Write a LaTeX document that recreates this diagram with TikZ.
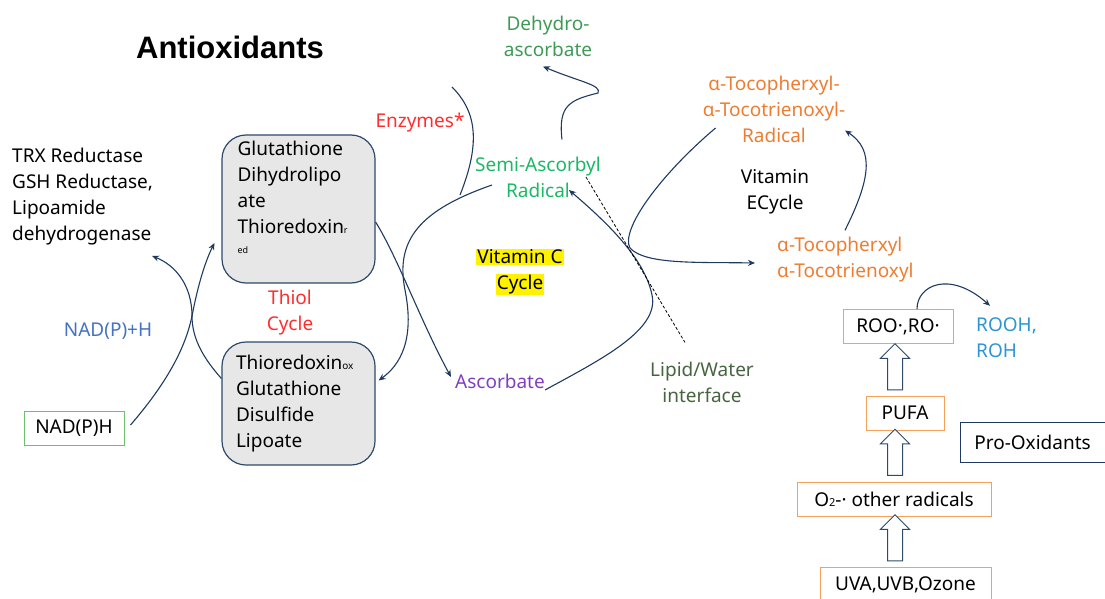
\documentclass[tikz,border=0pt]{standalone}
\usepackage{fontspec}
\setmainfont{Noto Sans}
\newfontfamily\titlefont{Liberation Sans}
\usetikzlibrary{positioning, shapes.arrows, arrows.meta}
\definecolor{linknavy}{HTML}{1F3A5F}
\definecolor{boxline}{HTML}{2E4A6B}
\definecolor{boxgray}{HTML}{E7E7E7}
\definecolor{cyclered}{HTML}{FF2D2D}
\definecolor{nadblue}{HTML}{4472C4}
\definecolor{nadgreen}{HTML}{6CC06C}
\definecolor{dehydrogreen}{HTML}{3F9A55}
\definecolor{semigreen}{HTML}{1CB866}
\definecolor{ascpurple}{HTML}{7F3FBF}
\definecolor{lipidgreen}{HTML}{46643F}
\definecolor{tocoorange}{HTML}{ED7D31}
\definecolor{proorange}{HTML}{F7A05A}
\definecolor{roohblue}{HTML}{2E95D3}
\definecolor{pronavy}{HTML}{203864}
\setlength{\fboxsep}{1pt}

\begin{document}
\begin{tikzpicture}[
    x=1pt, y=-1pt,
    font=\fontsize{19}{26}\selectfont,
    cellbox/.style={draw=boxline, line width=1.2pt, fill=boxgray, rounded corners=24pt,
                    minimum width=153pt},
    oxbox/.style={draw=#1, line width=1pt, inner sep=0pt, minimum height=34pt},
    oxbox/.default=proorange,
    blockarrow/.style={draw=boxline, line width=1pt, fill=white, single arrow,
                       shape border rotate=90, inner xsep=7pt, inner ysep=0pt,
                       single arrow head extend=7pt, single arrow head indent=0pt,
                       minimum height=46pt},
    arrow/.style={-{Stealth[length=7pt, width=6pt]}, linknavy, line width=1.1pt},
    txt/.style={align=center, inner sep=0pt, text=#1},
    txt/.default=black
]
\useasboundingbox (0,0) rectangle (1105,599);

% Title
\node[font=\titlefont\fontsize{31}{36}\selectfont\bfseries] (title) at (230,47) {Antioxidants};

% Thiol cycle
\node[txt, align=left, anchor=west] (trx) at (12,197)
    {TRX Reductase\\GSH Reductase,\\Lipoamide\\dehydrogenase};
\node[cellbox, minimum height=148pt] (thiolred) at (298.5,209) {};
\node[txt, align=left, anchor=north west] (thiolredtext)
    at ([xshift=16pt, yshift=-6pt]thiolred.north west)
    {Glutathione\\Dihydrolipo\\ate\\Thioredoxin{\fontsize{9}{10}\selectfont r}\\[-6pt]{\fontsize{9}{10}\selectfont ed}};
\node[txt=cyclered] (thiol) at (290,313) {Thiol\\Cycle};
\node[cellbox, minimum height=123pt, text width=125pt, align=left] (thiolox) at (298.5,403.5)
    {Thioredoxin{\fontsize{10}{12}\selectfont ox}\\Glutathione\\Disulfide\\Lipoate};
\node[txt=nadblue] (nadph) at (108,331) {NAD(P)+H};
\node[oxbox=nadgreen, minimum width=100pt] (nadbox) at (74,428) {NAD(P)H};

% Vitamin C cycle
\node[txt=cyclered] (enzymes) at (420,123) {Enzymes*};
\node[txt=dehydrogreen] (dehydro) at (548,36) {Dehydro-\\ascorbate};
\node[txt=semigreen] (semi) at (538,177) {Semi-Ascorbyl\\Radical};
\node[txt] (vitc) at (520,272) {\colorbox{yellow}{Vitamin C}\\\colorbox{yellow}{Cycle}};
\node[txt=ascpurple] (asc) at (500,381) {Ascorbate};
\node[txt=lipidgreen] (lipid) at (702,382) {Lipid/Water\\interface};

% Vitamin E cycle
\node[txt=tocoorange] (tocrad) at (774,109) {α-Tocopherxyl-\\α-Tocotrienoxyl-\\Radical};
\node[txt] (vite) at (775,192) {Vitamin\\ECycle};
\node[txt=tocoorange, align=left, anchor=west] (toco) at (777,260) {α-Tocopherxyl\\α-Tocotrienoxyl};
\node[txt=roohblue, align=left, anchor=west] (rooh) at (976,338) {ROOH,\\ROH};

% Pro-oxidants
\node[oxbox, minimum width=110pt] (roo) at (898,326.5) {ROO·,RO·};
\node[oxbox, minimum width=78pt] (pufa) at (905,413) {PUFA};
\node[oxbox=pronavy, minimum width=145pt, minimum height=40pt] (prox) at (1032.5,442) {Pro-Oxidants};
\node[oxbox, minimum width=194pt] (radicals) at (894,499)
    {O{\fontsize{11}{13}\selectfont 2}-· other radicals};
\node[oxbox, minimum width=171pt, minimum height=36pt] (uv) at (905.5,585) {UVA,UVB,Ozone};
\node[blockarrow] (up1) at (895,370.5) {};
\node[blockarrow] (up2) at (895,456) {};
\node[blockarrow] (up3) at (895,541.5) {};

% Free ends
\coordinate (cross) at (192,316);
\coordinate (trxend) at (152,256);
\coordinate (enzA) at (452,87);
\coordinate (enzB) at (460,195);

% Arrows
\draw[arrow] ([xshift=6pt, yshift=3pt]nadbox.east) .. controls (165,385) and (185,350) .. (cross)
    .. controls (198,285) and (205,262) .. ([xshift=-7pt, yshift=-34pt]thiolred.west);
\draw[arrow] ([yshift=25pt]thiolox.west) .. controls (205,360) and (192,340) .. (cross)
    .. controls (192,285) and (175,265) .. (trxend);
\draw[arrow] ([yshift=-13pt]thiolred.east) .. controls (398,258) and (420,320) .. ([xshift=-4pt, yshift=4pt]asc.west);
\draw[arrow] ([xshift=17pt, yshift=-8pt]semi.west) .. controls (420,210) and (395,240) .. (405,290)
    .. controls (415,340) and (400,365) .. ([xshift=3pt, yshift=23pt]thiolox.east);
\draw[linknavy, line width=1.1pt] (enzA) .. controls (475,110) and (482,140) .. (enzB);
\draw[arrow] ([xshift=24pt, yshift=17pt]semi.north) .. controls (558,105) and (570,100) .. (598,93)
    .. controls (602,85) and (580,82) .. ([xshift=-5pt, yshift=-10pt]dehydro.south);
\draw[arrow] ([yshift=-9pt]asc.east) .. controls (600,360) and (660,330) .. (652,295)
    .. controls (645,260) and (610,225) .. ([xshift=-32pt, yshift=-13pt]semi.east);
\draw[dash pattern=on 3pt off 2pt, line width=0.8pt] ([xshift=-15pt]semi.east) -- ([xshift=-17pt, yshift=19pt]lipid.north);
\draw[arrow] ([xshift=13pt, yshift=-19pt]tocrad.west) .. controls (660,175) and (620,230) .. (630,248)
    .. controls (645,265) and (700,262) .. ([xshift=-22pt, yshift=-3pt]toco.west);
\draw[arrow] ([xshift=68pt, yshift=7pt]toco.north west) .. controls (870,180) and (875,150) .. ([xshift=71pt, yshift=12pt]tocrad.south);
\draw[arrow] ([xshift=19pt]roo.north) .. controls (917,285) and (950,270) .. ([xshift=14pt, yshift=12pt]rooh.north west);

\end{tikzpicture}
\end{document}
